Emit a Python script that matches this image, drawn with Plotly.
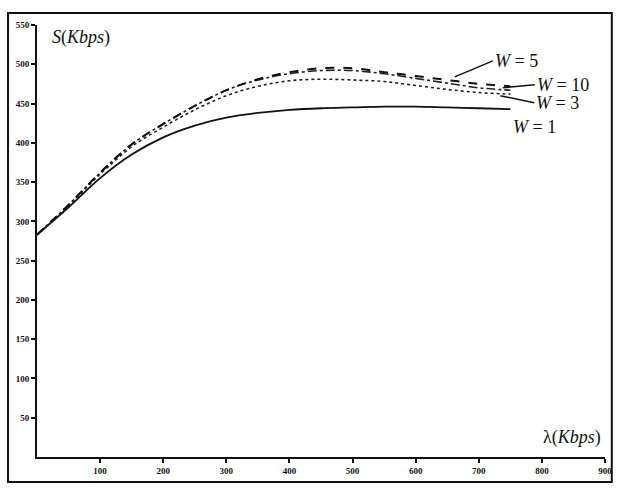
import plotly.graph_objects as go

lam = [0, 50, 100, 150, 200, 250, 300, 350, 400, 450, 500, 550, 600, 650, 700, 750]
s_w1 = [283, 318, 355, 385, 407, 422, 432, 438, 442, 444, 445, 446, 446, 445, 444, 443]
s_w3 = [283, 320, 360, 395, 420, 442, 460, 472, 479, 481, 480, 478, 473, 468, 464, 462]
s_w5 = [283, 321, 362, 398, 424, 447, 467, 481, 490, 495, 495, 490, 485, 480, 475, 472]
s_w10 = [283, 321, 362, 398, 424, 447, 467, 480, 488, 492, 492, 488, 482, 476, 470, 467]

x_ticks = [100, 200, 300, 400, 500, 600, 700, 800, 900]
y_ticks = [50, 100, 150, 200, 250, 300, 350, 400, 450, 500, 550]

fig = go.Figure()
fig.add_trace(go.Scatter(x=lam, y=s_w1, mode="lines", line=dict(color="#111", width=1.8, shape="spline"), name="W=1"))
fig.add_trace(go.Scatter(x=lam, y=s_w3, mode="lines", line=dict(color="#222", width=1.6, dash="dot", shape="spline"), name="W=3"))
fig.add_trace(go.Scatter(x=lam, y=s_w10, mode="lines", line=dict(color="#222", width=1.6, dash="dashdot", shape="spline"), name="W=10"))
fig.add_trace(go.Scatter(x=lam, y=s_w5, mode="lines", line=dict(color="#111", width=2, dash="dash", shape="spline"), name="W=5"))

serif = "Liberation Serif"
lab_font = dict(family=serif, size=18, color="#111")

fig.add_annotation(x=662, y=484, ax=38, ay=-16, text="<i>W</i> = 5", showarrow=True,
                   arrowhead=0, arrowwidth=1.5, arrowcolor="#111", font=lab_font, xanchor="left")
fig.add_annotation(x=738, y=470, ax=32, ay=-3, text="<i>W</i> = 10", showarrow=True,
                   arrowhead=0, arrowwidth=1.5, arrowcolor="#111", font=lab_font, xanchor="left")
fig.add_annotation(x=734, y=460, ax=34, ay=7, text="<i>W</i> = 3", showarrow=True,
                   arrowhead=0, arrowwidth=1.5, arrowcolor="#111", font=lab_font, xanchor="left")
fig.add_annotation(x=789, y=420, text="<i>W</i> = 1", showarrow=False, font=lab_font)

fig.add_annotation(xref="paper", yref="paper", x=0.023, y=0.97, xanchor="left", yanchor="middle",
                   text="<i>S</i>(<i>Kbps</i>)", showarrow=False, font=lab_font)
fig.add_annotation(xref="paper", yref="paper", x=0.997, y=0.046, xanchor="right", yanchor="middle",
                   text="λ(<i>Kbps</i>)", showarrow=False, font=lab_font)

# outer frame
fig.add_shape(type="rect", xref="paper", yref="paper", x0=-0.051, x1=1.012, y0=-0.058, y1=1.028,
              line=dict(color="#111", width=2))

tick_font = dict(family=serif, size=9, color="#111", weight="bold")
fig.update_xaxes(range=[0, 900], tickvals=x_ticks, ticktext=[str(v) for v in x_ticks],
                 showgrid=False, zeroline=False, showline=True, linecolor="#111", linewidth=2,
                 ticks="outside", ticklen=4, tickwidth=1.5, tickcolor="#111", tickfont=tick_font)
fig.update_yaxes(range=[0, 550], tickvals=y_ticks, ticktext=[str(v) for v in y_ticks],
                 showgrid=False, zeroline=False, showline=True, linecolor="#111", linewidth=2,
                 ticks="outside", ticklen=4, tickwidth=1.5, tickcolor="#111", tickfont=tick_font)

fig.update_layout(width=624, height=496, margin=dict(l=37, r=19, t=25, b=39),
                  plot_bgcolor="white", paper_bgcolor="white", showlegend=False)

fig.write_html("out.html")
